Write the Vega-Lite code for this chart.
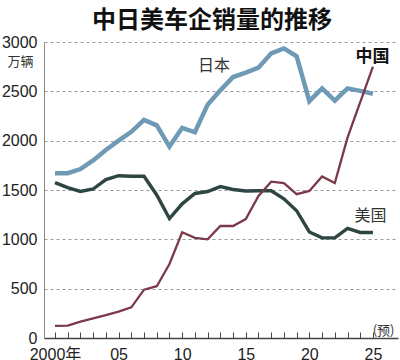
{
  "$schema": "https://vega.github.io/schema/vega-lite/v6.json",
  "width": 354,
  "height": 296,
  "autosize": "none",
  "padding": {"left": 44, "top": 42, "right": 2, "bottom": 22},
  "background": "white",
  "title": {
    "text": "中日美车企销量的推移",
    "font": "Noto Sans CJK SC",
    "fontSize": 24,
    "fontWeight": "bold",
    "color": "#111",
    "anchor": "middle",
    "frame": "group",
    "offset": 1,
    "dx": -9
  },
  "config": {"view": {"stroke": null}},
  "resolve": {"axis": {"x": "independent"}},
  "datasets": {
    "sales": [
      {"year": 2000, "country": "日本", "value": 1670},
      {"year": 2001, "country": "日本", "value": 1670},
      {"year": 2002, "country": "日本", "value": 1712},
      {"year": 2003, "country": "日本", "value": 1800},
      {"year": 2004, "country": "日本", "value": 1905},
      {"year": 2005, "country": "日本", "value": 2000},
      {"year": 2006, "country": "日本", "value": 2090},
      {"year": 2007, "country": "日本", "value": 2210},
      {"year": 2008, "country": "日本", "value": 2155},
      {"year": 2009, "country": "日本", "value": 1940},
      {"year": 2010, "country": "日本", "value": 2130},
      {"year": 2011, "country": "日本", "value": 2085},
      {"year": 2012, "country": "日本", "value": 2365},
      {"year": 2013, "country": "日本", "value": 2510},
      {"year": 2014, "country": "日本", "value": 2645},
      {"year": 2015, "country": "日本", "value": 2690},
      {"year": 2016, "country": "日本", "value": 2740},
      {"year": 2017, "country": "日本", "value": 2885},
      {"year": 2018, "country": "日本", "value": 2935},
      {"year": 2019, "country": "日本", "value": 2855},
      {"year": 2020, "country": "日本", "value": 2400},
      {"year": 2021, "country": "日本", "value": 2530},
      {"year": 2022, "country": "日本", "value": 2405},
      {"year": 2023, "country": "日本", "value": 2530},
      {"year": 2024, "country": "日本", "value": 2505},
      {"year": 2025, "country": "日本", "value": 2475},
      {"year": 2000, "country": "美国", "value": 1575},
      {"year": 2001, "country": "美国", "value": 1525},
      {"year": 2002, "country": "美国", "value": 1485},
      {"year": 2003, "country": "美国", "value": 1510},
      {"year": 2004, "country": "美国", "value": 1605},
      {"year": 2005, "country": "美国", "value": 1645},
      {"year": 2006, "country": "美国", "value": 1640},
      {"year": 2007, "country": "美国", "value": 1640},
      {"year": 2008, "country": "美国", "value": 1450},
      {"year": 2009, "country": "美国", "value": 1210},
      {"year": 2010, "country": "美国", "value": 1360},
      {"year": 2011, "country": "美国", "value": 1465},
      {"year": 2012, "country": "美国", "value": 1485},
      {"year": 2013, "country": "美国", "value": 1535},
      {"year": 2014, "country": "美国", "value": 1505},
      {"year": 2015, "country": "美国", "value": 1490},
      {"year": 2016, "country": "美国", "value": 1492},
      {"year": 2017, "country": "美国", "value": 1492},
      {"year": 2018, "country": "美国", "value": 1410},
      {"year": 2019, "country": "美国", "value": 1290},
      {"year": 2020, "country": "美国", "value": 1075},
      {"year": 2021, "country": "美国", "value": 1015},
      {"year": 2022, "country": "美国", "value": 1015},
      {"year": 2023, "country": "美国", "value": 1110},
      {"year": 2024, "country": "美国", "value": 1070},
      {"year": 2025, "country": "美国", "value": 1070},
      {"year": 2000, "country": "中国", "value": 122},
      {"year": 2001, "country": "中国", "value": 125},
      {"year": 2002, "country": "中国", "value": 166},
      {"year": 2003, "country": "中国", "value": 200},
      {"year": 2004, "country": "中国", "value": 233},
      {"year": 2005, "country": "中国", "value": 267},
      {"year": 2006, "country": "中国", "value": 311},
      {"year": 2007, "country": "中国", "value": 490},
      {"year": 2008, "country": "中国", "value": 525},
      {"year": 2009, "country": "中国", "value": 750},
      {"year": 2010, "country": "中国", "value": 1072},
      {"year": 2011, "country": "中国", "value": 1015},
      {"year": 2012, "country": "中国", "value": 1000},
      {"year": 2013, "country": "中国", "value": 1135},
      {"year": 2014, "country": "中国", "value": 1135},
      {"year": 2015, "country": "中国", "value": 1205},
      {"year": 2016, "country": "中国", "value": 1440},
      {"year": 2017, "country": "中国", "value": 1585},
      {"year": 2018, "country": "中国", "value": 1570},
      {"year": 2019, "country": "中国", "value": 1458},
      {"year": 2020, "country": "中国", "value": 1490},
      {"year": 2021, "country": "中国", "value": 1638},
      {"year": 2022, "country": "中国", "value": 1570},
      {"year": 2023, "country": "中国", "value": 2030},
      {"year": 2024, "country": "中国", "value": 2390},
      {"year": 2025, "country": "中国", "value": 2750}
    ],
    "labels": [
      {"label": "日本", "year": 2012.5, "value": 2761, "bold": false},
      {"label": "美国", "year": 2024.8, "value": 1233, "bold": false},
      {"label": "中国", "year": 2024.96, "value": 2847, "bold": true}
    ]
  },
  "layer": [
    {
      "data": {"name": "sales"},
      "mark": {"type": "line", "strokeJoin": "miter", "strokeCap": "butt"},
      "encoding": {
        "x": {
          "field": "year",
          "type": "quantitative",
          "scale": {"domain": [1999.135, 2026.97], "nice": false, "zero": false},
          "axis": {
            "orient": "bottom",
            "values": [2000, 2005, 2010, 2015, 2020, 2025],
            "labelExpr": "datum.value == 2000 ? '2000年' : slice(toString(datum.value), 2)",
            "labelFont": "Liberation Sans, Noto Sans CJK SC",
            "labelFontSize": 16,
            "labelColor": "#222",
            "labelPadding": 8,
            "labelOverlap": false,
            "labelFlush": false,
            "grid": false,
            "domainColor": "#444",
            "domainWidth": 1.5,
            "ticks": false,
            "title": "(预)",
            "titleFont": "Noto Sans CJK SC",
            "titleFontSize": 13,
            "titleFontWeight": "normal",
            "titleColor": "#333",
            "titleAnchor": "end",
            "titleAlign": "right",
            "titleX": 350,
            "titleY": -8,
            "titleBaseline": "middle"
          }
        },
        "y": {
          "field": "value",
          "type": "quantitative",
          "scale": {"domain": [0, 3000], "nice": false},
          "axis": {
            "values": [0, 500, 1000, 1500, 2000, 2500, 3000],
            "format": "d",
            "labelFont": "Liberation Sans",
            "labelFontSize": 16,
            "labelColor": "#222",
            "labelPadding": 7,
            "ticks": false,
            "grid": true,
            "gridDash": [3, 3],
            "gridColor": "#999",
            "gridWidth": 1,
            "domainColor": "#888",
            "domainWidth": 1,
            "title": "万辆",
            "titleFont": "Noto Sans CJK SC",
            "titleFontSize": 13,
            "titleFontWeight": "normal",
            "titleColor": "#333",
            "titleAngle": 0,
            "titleAlign": "left",
            "titleBaseline": "middle",
            "titleX": -37,
            "titleY": 19
          }
        },
        "color": {
          "field": "country",
          "type": "nominal",
          "scale": {"domain": ["日本", "美国", "中国"], "range": ["#6f9ab5", "#2d4643", "#7b3a4a"]},
          "legend": null
        },
        "strokeWidth": {
          "field": "country",
          "type": "nominal",
          "scale": {"domain": ["日本", "美国", "中国"], "range": [4.5, 2.3, 3.5]},
          "legend": null
        },
        "detail": {"field": "country"}
      }
    },
    {
      "data": {"name": "labels"},
      "transform": [{"filter": "!datum.bold"}],
      "mark": {"type": "text", "font": "Noto Sans CJK SC", "fontSize": 16, "color": "#333", "align": "center", "baseline": "middle"},
      "encoding": {
        "x": {
          "field": "year",
          "type": "quantitative",
          "axis": {
            "orient": "bottom",
            "values": [2000, 2001, 2002, 2003, 2004, 2005, 2006, 2007, 2008, 2009, 2010, 2011, 2012, 2013, 2014, 2015, 2016, 2017, 2018, 2019, 2020, 2021, 2022, 2023, 2024, 2025],
            "labels": false,
            "domain": false,
            "grid": false,
            "ticks": true,
            "tickSize": -6,
            "tickColor": "#444",
            "tickWidth": 1,
            "title": null,
            "offset": 0
          }
        },
        "y": {"field": "value", "type": "quantitative"},
        "text": {"field": "label"}
      }
    },
    {
      "data": {"name": "labels"},
      "transform": [{"filter": "datum.bold"}],
      "mark": {"type": "text", "font": "Noto Sans CJK SC", "fontSize": 17, "fontWeight": "bold", "color": "#111", "align": "center", "baseline": "middle"},
      "encoding": {
        "x": {"field": "year", "type": "quantitative", "axis": null},
        "y": {"field": "value", "type": "quantitative"},
        "text": {"field": "label"}
      }
    }
  ]
}
